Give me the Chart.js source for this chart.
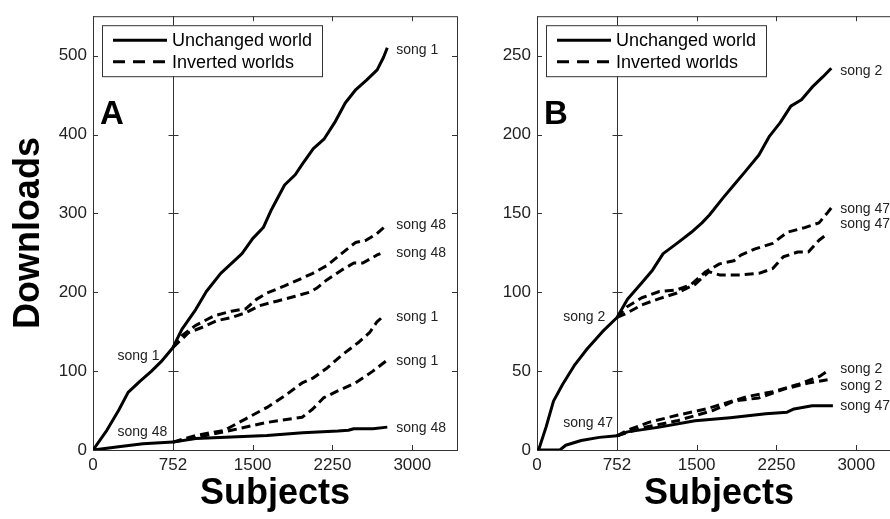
<!DOCTYPE html>
<html>
<head>
<meta charset="utf-8">
<script src="https://cdn.jsdelivr.net/npm/chart.js@4.4.1/dist/chart.umd.min.js"></script>
<style>
    html, body { margin: 0; padding: 0; background: #fff; width: 890px; height: 519px; overflow: hidden; }
    .panel { position: absolute; top: 0; }
    #panelA { left: 0; }
    #panelB { left: 462px; }
</style>
</head>
<body>
<div class="panel" id="panelA"><canvas id="chartA" width="462" height="519"></canvas></div>
<div class="panel" id="panelB"><canvas id="chartB" width="450" height="519"></canvas></div>
<script>
// shared axis values
const SUBJECT_TICKS = [0, 752, 1500, 2250, 3000];
const SPLIT_AT = 752;
const TICKS_A = [0, 100, 200, 300, 400, 500];
const TICKS_B = [0, 50, 100, 150, 200, 250];

// Panel A: songs 1 and 48
const aSong1UnchangedX = [0, 130, 240, 330, 440, 550, 640, 752, 835, 965, 1065, 1200, 1400, 1500, 1600, 1670, 1800, 1900, 1970, 2070, 2170, 2270, 2370, 2470, 2570, 2670, 2730, 2765];
const aSong1UnchangedY = [0, 25, 50, 73, 87, 100, 112, 130, 153, 178, 201, 224, 249, 268, 282, 303, 336, 349, 363, 382, 394, 415, 440, 457, 469, 482, 498, 510];
const aSong48UnchangedX = [0, 240, 470, 752, 965, 1300, 1635, 1970, 2300, 2400, 2450, 2630, 2765];
const aSong48UnchangedY = [0, 4, 8, 10, 14.5, 16.5, 18.5, 22, 24, 25, 27, 27, 29];
const aSong48InvertedX1 = [752, 835, 965, 1135, 1300, 1435, 1535, 1635, 1800, 1935, 2065, 2200, 2335, 2465, 2565, 2665, 2765];
const aSong48InvertedY1 = [130, 145, 158, 170, 176, 179, 191, 199, 208, 216, 224, 234, 249, 263, 266, 274, 286];
const aSong48InvertedX2 = [752, 900, 1035, 1165, 1300, 1435, 1565, 1735, 1900, 2035, 2100, 2200, 2335, 2450, 2535, 2665, 2700];
const aSong48InvertedY2 = [130, 149, 156, 164, 168, 174, 183, 189, 195, 200, 205, 216, 228, 237, 237, 247, 249];
const aSong1InvertedX1 = [752, 965, 1235, 1435, 1635, 1800, 1965, 2065, 2200, 2335, 2500, 2600, 2665, 2730];
const aSong1InvertedY1 = [10, 18.5, 25, 39.5, 54, 68.5, 85, 91, 104, 120, 137, 149, 162, 170];
const aSong1InvertedX2 = [752, 965, 1300, 1635, 1965, 2065, 2165, 2300, 2465, 2630, 2765];
const aSong1InvertedY2 = [10, 16, 25, 35, 41.5, 52, 66, 75, 85, 100, 114];

// Panel B: songs 2 and 47
const bSong2UnchangedX = [0, 15, 85, 155, 240, 355, 470, 615, 752, 850, 985, 1085, 1185, 1315, 1450, 1550, 1620, 1750, 1850, 1950, 2085, 2185, 2285, 2385, 2485, 2585, 2685, 2765];
const bSong2UnchangedY = [0, 0, 14.5, 31, 41.5, 54, 64, 75, 84, 95.5, 106, 114, 124.5, 131, 138, 144, 149, 160, 168, 176, 187, 199, 207.5, 218, 222, 230, 236.5, 242];
const bSong47UnchangedX = [0, 215, 270, 415, 585, 752, 850, 1150, 1485, 1815, 2150, 2350, 2415, 2585, 2780];
const bSong47UnchangedY = [0, 0, 3, 6, 8, 9, 11.5, 14.5, 18.5, 20.5, 23, 24, 26, 28, 28];
const bSong47InvertedX1 = [752, 850, 985, 1150, 1315, 1450, 1585, 1715, 1850, 1915, 2050, 2215, 2350, 2515, 2650, 2730, 2765];
const bSong47InvertedY1 = [84, 91, 96.5, 100.5, 101.5, 105, 113, 118, 120, 123.5, 127.5, 131, 138, 141, 144, 150.5, 153.5];
const bSong47InvertedX2 = [752, 850, 985, 1150, 1315, 1485, 1615, 1715, 1915, 2085, 2215, 2315, 2450, 2550, 2650, 2730];
const bSong47InvertedY2 = [84, 87, 92, 96, 99.5, 105, 113, 111, 111, 112, 115, 122.5, 125.5, 125.5, 133, 137];
const bSong2InvertedX1 = [752, 850, 1050, 1315, 1585, 1785, 1985, 2215, 2450, 2650, 2730];
const bSong2InvertedY1 = [9, 12.5, 17.5, 22, 26, 30, 34, 37, 41.5, 46.5, 50];
const bSong2InvertedX2 = [752, 985, 1315, 1650, 1850, 2085, 2315, 2550, 2730];
const bSong2InvertedY2 = [9, 14, 18.5, 25, 31, 33, 38.5, 42.5, 44.5];

// curve labels, anchored in data units
const aLabelText = ['song 1', 'song 48', 'song 48', 'song 1', 'song 1', 'song 48', 'song 1', 'song 48'];
const aLabelX = [2765, 2765, 2765, 2765, 2765, 2765, 230, 230];
const aLabelY = [507, 285.5, 250, 168, 113, 28, 119, 23];
const bLabelText = ['song 2', 'song 47', 'song 47', 'song 2', 'song 2', 'song 47', 'song 2', 'song 47'];
const bLabelX = [2765, 2765, 2765, 2765, 2765, 2765, 247, 247];
const bLabelY = [240, 153, 143, 51.5, 40.5, 27.6, 84, 17];

const LEGEND_TEXT = ['Unchanged world', 'Inverted worlds'];
const FONT = '"Liberation Sans", Arial, Helvetica, sans-serif';
Chart.defaults.font.family = FONT;

function series(xs, ys, inverted) {
    return {
        data: xs.map((x, i) => ({ x: x, y: ys[i] })),
        borderColor: '#000',
        borderWidth: 3,
        borderDash: inverted ? [9, 5] : [],
        borderJoinStyle: 'round',
        pointRadius: 0,
        tension: 0,
        fill: false
    };
}

// box, inside ticks and the split line, MATLAB style
const framePlugin = {
    id: 'frame',
    beforeDatasetsDraw(chart) {
        const { ctx, chartArea: a, scales: { x, y } } = chart;
        ctx.save();
        ctx.strokeStyle = '#333';
        ctx.lineWidth = 1;
        ctx.strokeRect(a.left + 0.5, a.top + 0.5, a.width, a.height);
        ctx.beginPath();
        const sx = Math.round(x.getPixelForValue(SPLIT_AT)) + 0.5;
        ctx.moveTo(sx, a.top);
        ctx.lineTo(sx, a.bottom);
        x.ticks.forEach(t => {
            const px = Math.round(x.getPixelForValue(t.value)) + 0.5;
            ctx.moveTo(px, a.bottom); ctx.lineTo(px, a.bottom - 5);
            ctx.moveTo(px, a.top); ctx.lineTo(px, a.top + 5);
        });
        y.ticks.forEach(t => {
            const py = Math.round(y.getPixelForValue(t.value)) + 0.5;
            ctx.moveTo(a.left, py); ctx.lineTo(a.left + 5, py);
            ctx.moveTo(a.right, py); ctx.lineTo(a.right - 5, py);
            ctx.moveTo(sx - 5, py); ctx.lineTo(sx + 5, py);
        });
        ctx.stroke();
        ctx.restore();
    }
};

const annotatePlugin = {
    id: 'annotate',
    afterDraw(chart, args, opts) {
        const { ctx, chartArea: a, scales: { x, y } } = chart;
        ctx.save();
        // song labels
        ctx.fillStyle = '#222';
        ctx.font = '14px ' + FONT;
        ctx.textBaseline = 'middle';
        ctx.textAlign = 'left';
        opts.text.forEach((t, i) => {
            const dx = opts.xs[i] > SPLIT_AT ? 9 : 0;
            ctx.fillText(t, x.getPixelForValue(opts.xs[i]) + dx, y.getPixelForValue(opts.ys[i]));
        });
        // panel letter
        ctx.fillStyle = '#000';
        ctx.font = 'bold 33px ' + FONT;
        ctx.textBaseline = 'alphabetic';
        ctx.fillText(opts.letter, a.left + 7, a.top + 108);
        // legend box
        const bx = a.left + 9, by = a.top + 9, bw = 220, bh = 51;
        ctx.fillStyle = '#fff';
        ctx.fillRect(bx, by, bw, bh);
        ctx.strokeStyle = '#333';
        ctx.lineWidth = 1;
        ctx.strokeRect(bx + 0.5, by + 0.5, bw, bh);
        ctx.strokeStyle = '#000';
        ctx.lineWidth = 3;
        [[], [12, 8]].forEach((dash, i) => {
            const ly = by + 15 + i * 21.5;
            ctx.setLineDash(dash);
            ctx.beginPath();
            ctx.moveTo(bx + 11, ly);
            ctx.lineTo(bx + 65, ly);
            ctx.stroke();
            ctx.fillStyle = '#000';
            ctx.font = '18px ' + FONT;
            ctx.textBaseline = 'middle';
            ctx.fillText(LEGEND_TEXT[i], bx + 70, ly + 1);
        });
        ctx.restore();
    }
};

function makePanel(id, opts) {
    const canvas = document.getElementById(id);
    return new Chart(canvas.getContext('2d'), {
        type: 'line',
        data: { datasets: opts.datasets },
        plugins: [framePlugin, annotatePlugin],
        options: {
            responsive: false,
            animation: false,
            events: [],
            layout: { padding: { top: 7, right: opts.padRight, left: 0, bottom: 0 } },
            plugins: {
                legend: { display: false },
                tooltip: { enabled: false },
                annotate: { letter: opts.letter, text: opts.labelText, xs: opts.labelX, ys: opts.labelY }
            },
            scales: {
                x: {
                    type: 'linear',
                    min: 0,
                    max: 3420,
                    afterBuildTicks: s => { s.ticks = SUBJECT_TICKS.map(v => ({ value: v })); },
                    afterFit: s => { s.height = 69; },
                    grid: { display: false, drawTicks: false },
                    border: { display: false },
                    ticks: {
                        color: '#222',
                        font: { size: 17 },
                        padding: 5,
                        maxRotation: 0,
                        autoSkip: false,
                        callback: v => String(v)
                    },
                    title: {
                        display: true,
                        text: 'Subjects',
                        color: '#000',
                        font: { size: 36, weight: 'bold' },
                        padding: { top: 0, bottom: 3 }
                    }
                },
                y: {
                    type: 'linear',
                    min: 0,
                    max: opts.yMax,
                    afterBuildTicks: s => { s.ticks = opts.yTicks.map(v => ({ value: v })); },
                    afterFit: s => { s.width = opts.yWidth; },
                    grid: { display: false, drawTicks: false },
                    border: { display: false },
                    ticks: {
                        color: '#222',
                        font: { size: 17 },
                        padding: 6,
                        callback: v => String(v)
                    },
                    title: {
                        display: opts.yTitle,
                        text: 'Downloads',
                        color: '#000',
                        font: { size: 36, weight: 'bold' },
                        padding: { top: 7, bottom: 0 }
                    }
                }
            }
        }
    });
}

makePanel('chartA', {
    letter: 'A',
    yMax: 550,
    yTicks: TICKS_A,
    yWidth: 93,
    yTitle: true,
    padRight: 5,
    labelText: aLabelText, labelX: aLabelX, labelY: aLabelY,
    datasets: [
        series(aSong1UnchangedX, aSong1UnchangedY, false),
        series(aSong48UnchangedX, aSong48UnchangedY, false),
        series(aSong48InvertedX1, aSong48InvertedY1, true),
        series(aSong48InvertedX2, aSong48InvertedY2, true),
        series(aSong1InvertedX1, aSong1InvertedY1, true),
        series(aSong1InvertedX2, aSong1InvertedY2, true)
    ]
});

makePanel('chartB', {
    letter: 'B',
    yMax: 275,
    yTicks: TICKS_B,
    yWidth: 75,
    yTitle: false,
    padRight: 11,
    labelText: bLabelText, labelX: bLabelX, labelY: bLabelY,
    datasets: [
        series(bSong2UnchangedX, bSong2UnchangedY, false),
        series(bSong47UnchangedX, bSong47UnchangedY, false),
        series(bSong47InvertedX1, bSong47InvertedY1, true),
        series(bSong47InvertedX2, bSong47InvertedY2, true),
        series(bSong2InvertedX1, bSong2InvertedY1, true),
        series(bSong2InvertedX2, bSong2InvertedY2, true)
    ]
});
</script>
</body>
</html>
